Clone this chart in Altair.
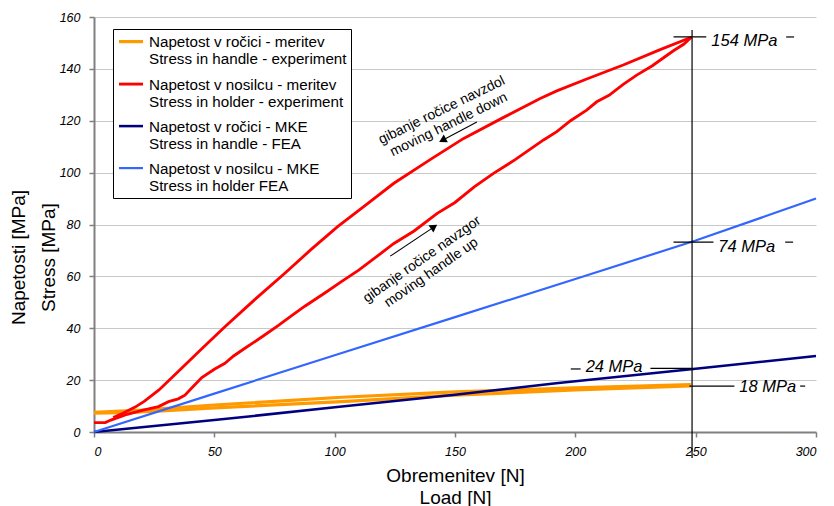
import altair as alt
import pandas as pd

FONT = "Liberation Sans"

series_names = [
    "Napetost v ročici - meritev\nStress in handle - experiment",
    "Napetost v nosilcu - meritev\nStress in holder - experiment",
    "Napetost v ročici - MKE\nStress in handle - FEA",
    "Napetost v nosilcu - MKE\nStress in holder FEA",
]
series_colors = ["#FF9900", "#FF0000", "#000080", "#3366FF"]
series_widths = [3.2, 2.2, 2.2, 2.0]

# Stress in handle - experiment (two branches)
orange_a_x = [0, 20, 50, 103, 150, 200, 248]
orange_a_y = [7.6, 8.4, 10.4, 13.4, 15.5, 17.0, 18.3]
orange_b_x = [0, 15, 30, 50, 103, 150, 200, 248]
orange_b_y = [7.3, 7.6, 8.2, 9.3, 11.7, 14.2, 16.2, 17.8]

# Stress in holder - experiment: loading branch
red_up_x = [0, 4.7, 7, 13, 20, 26.8, 31, 35, 37.8, 40.6, 44.8, 50, 54.4, 58, 62.7, 70, 76.5,
            82, 87.6, 95.9, 102.8, 110, 117, 124.6, 133, 142.6, 150, 158, 166, 175, 186.8,
            192.3, 198, 204.7, 208.9, 214, 219.9, 225.5, 232, 240.6, 245, 248.2]
red_up_y = [3.6, 3.6, 4.6, 6.6, 8.3, 9.8, 11.7, 12.8, 14.2, 17.0, 21.0, 24.2, 26.5, 29.3, 32.3,
            36.8, 41.0, 44.8, 48.5, 53.6, 58.0, 62.4, 67.3, 72.7, 77.5, 84.3, 88.5, 94.5, 99.7,
            105.0, 112.6, 115.8, 120.0, 124.1, 127.3, 129.8, 134.0, 137.6, 141.2, 146.9, 149.5, 152.2]
# unloading branch
red_dn_x = [248.2, 235, 219.9, 205, 192.3, 185.4, 170, 153.6, 140, 124.6, 113, 101.1, 90, 79.3,
            67, 54.4, 45, 35, 27, 21, 17.1, 12, 8]
red_dn_y = [152.2, 147.3, 141.5, 136.2, 131.5, 128.6, 121.2, 113.2, 105.2, 95.9, 87.6, 79.1,
            70.2, 61.2, 51.2, 40.6, 32.3, 23.3, 16.2, 11.9, 9.6, 7.2, 5.6]

# FEA
navy_x = [0, 50, 103, 150, 192, 248, 300]
navy_y = [0, 4.6, 9.8, 14.4, 18.8, 24.2, 29.3]
blue_x = [0, 50, 100, 150, 200, 250, 300]
blue_y = [0, 14.8, 29.6, 44.3, 59.0, 73.8, 90.0]

# value annotations
ann_text = ["154 MPa", "74 MPa", "24 MPa", "18 MPa"]
ann_text_x = [256.5, 259.4, 204.3, 268.1]
ann_text_y = [148.8, 69.5, 23.2, 15.3]
ann_line_x = [240.8, 240.8, 231.2, 247.4, 287.6, 287.2, 198.1, 293.4]
ann_line_x2 = [254.4, 257.4, 248.4, 266.1, 290.9, 290.5, 202.2, 295.5]
ann_line_y = [152.3, 73.2, 24.5, 17.7, 152.3, 73.2, 24.3, 17.7]

vline_x = [248.5]
vline_y = [-10]
vline_y2 = [155]

# direction notes
note_text = ["gibanje ročice navzdol\nmoving handle down", "gibanje ročice navzgor\nmoving handle up"]
note_x = [144.5, 136.3]
note_y = [124.0, 66.5]
note_angle = [334, 325]
arrow_x = [159.1, 123.1]
arrow_y = [119.5, 67.8]
arrow_x2 = [145.0, 141.0]
arrow_y2 = [112.6, 78.9]
head_x = [144.8, 141.3]
head_y = [112.5, 79.1]
head_angle = [242, 56]

rows = []
def add(si, br, xs, ys):
    for i, (a, b) in enumerate(zip(xs, ys)):
        rows.append({"series": series_names[si], "branch": br, "idx": i, "x": a, "y": b})

add(0, "oa", orange_a_x, orange_a_y)
add(0, "ob", orange_b_x, orange_b_y)
add(1, "ru", red_up_x, red_up_y)
add(1, "rd", red_dn_x, red_dn_y)
add(2, "n", navy_x, navy_y)
add(3, "b", blue_x, blue_y)
df = pd.DataFrame(rows)

xs = alt.Scale(domain=[0, 300], nice=False, zero=False)
ys = alt.Scale(domain=[0, 160], nice=False, zero=False)

xaxis = alt.Axis(values=[0, 50, 100, 150, 200, 250, 300], grid=False,
                 title=["Obremenitev [N]", "Load [N]"], titleFont=FONT, titleFontSize=19,
                 titleFontWeight="normal", titleColor="black", titleBaseline="alphabetic",
                 titleY=49, titleLineHeight=22,
                 labelFont=FONT, labelFontStyle="italic", labelFontSize=12.5, labelColor="black",
                 labelPadding=8, tickSize=5, tickColor="#808080", tickWidth=1.5,
                 domainColor="#808080", domainWidth=2)
yaxis = alt.Axis(values=list(range(0, 161, 20)), grid=True, gridColor="#c8c8c8", gridWidth=1,
                 title=["Napetosti [MPa]", "Stress [MPa]"], titleFont=FONT,
                 titleFontSize=19, titleFontWeight="normal", titleColor="black",
                 titleAngle=270, titleAlign="center", titleBaseline="alphabetic",
                 titleX=-70, titleY=240, titleLineHeight=30,
                 labelFont=FONT, labelFontStyle="italic", labelFontSize=12.5, labelColor="black",
                 labelPadding=9, tickSize=5, tickColor="#808080", tickWidth=1.5,
                 domainColor="#808080", domainWidth=2)

X = alt.X("x:Q", scale=xs, axis=xaxis)
Y = alt.Y("y:Q", scale=ys, axis=yaxis)

legend = alt.Legend(title=None, orient="none", legendX=19, legendY=12, direction="vertical",
                    labelExpr="split(datum.label, '\\n')", labelFont=FONT, labelFontSize=15.2,
                    labelColor="black", labelLimit=400, labelBaseline="alphabetic", labelOffset=4,
                    symbolType="M-1,-0.45L1,-0.45", symbolSize=576, symbolStrokeWidth=2.5,
                    strokeColor="black", fillColor="white", padding=4, rowPadding=8,
                    cornerRadius=0)

lines = alt.Chart(df).mark_line().encode(
    x=X, y=Y,
    color=alt.Color("series:N", scale=alt.Scale(domain=series_names, range=series_colors),
                    legend=legend),
    strokeWidth=alt.StrokeWidth("series:N",
                                scale=alt.Scale(domain=series_names, range=series_widths),
                                legend=None),
    detail="branch:N",
    order="idx:Q",
)

vdf = pd.DataFrame({"x": vline_x, "y": vline_y, "y2": vline_y2})
vrule = alt.Chart(vdf).mark_rule(color="black", strokeWidth=1.2).encode(x=X, y=Y, y2="y2:Q")

hdf = pd.DataFrame({"x": ann_line_x, "x2": ann_line_x2, "y": ann_line_y})
hrules = alt.Chart(hdf).mark_rule(color="black", strokeWidth=1.2).encode(x=X, x2="x2:Q", y=Y)

tdf = pd.DataFrame({"x": ann_text_x, "y": ann_text_y, "t": ann_text})
texts = alt.Chart(tdf).mark_text(font=FONT, fontSize=16.5, fontStyle="italic", align="left",
                                 baseline="alphabetic", color="black").encode(x=X, y=Y, text="t:N")

ndf = pd.DataFrame({"x": note_x, "y": note_y, "t": note_text, "a": note_angle})
notes = alt.Chart(ndf).mark_text(font=FONT, fontSize=14, align="center", baseline="middle",
                                 lineBreak="\n", lineHeight=16, color="black").encode(
    x=X, y=Y, text="t:N", angle=alt.Angle("a:Q", scale=None))

adf = pd.DataFrame({"x": arrow_x, "y": arrow_y, "x2": arrow_x2, "y2": arrow_y2})
arrows = alt.Chart(adf).mark_rule(color="black", strokeWidth=1.1).encode(
    x=X, y=Y, x2="x2:Q", y2="y2:Q")

hd = pd.DataFrame({"x": head_x, "y": head_y, "a": head_angle})
heads = alt.Chart(hd).mark_point(shape="triangle-up", filled=True, color="black", size=75,
                                 opacity=1).encode(x=X, y=Y, angle=alt.Angle("a:Q", scale=None))

chart = alt.layer(lines, vrule, hrules, texts, notes, arrows, heads).properties(
    width=722, height=415,
    autosize=alt.AutoSizeParams(type="none"),
    padding={"left": 86, "top": 9, "right": 10, "bottom": 76},
    background="white",
).configure_view(stroke=None)

chart.save("out.html", embed_options={"renderer": "svg", "actions": False})
